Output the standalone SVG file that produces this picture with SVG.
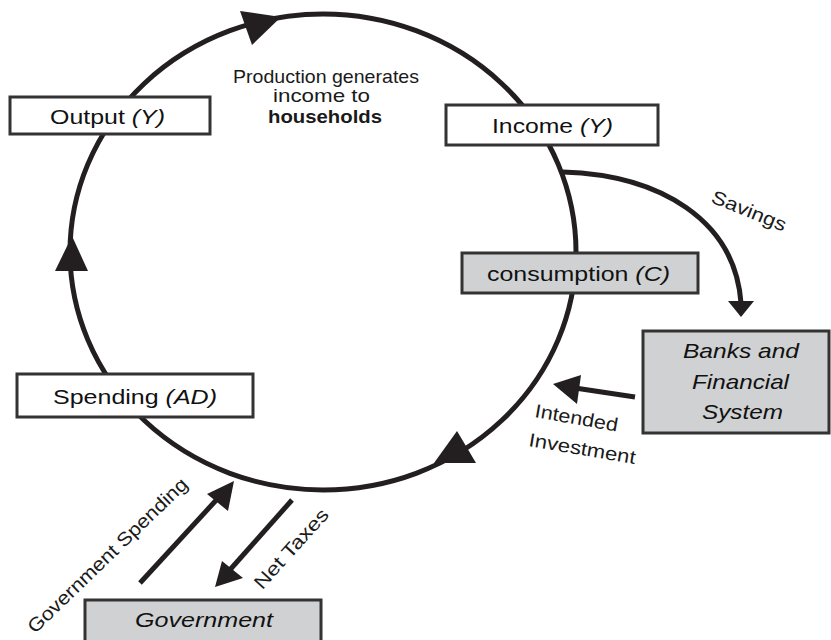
<svg xmlns="http://www.w3.org/2000/svg" width="831" height="640" viewBox="0 0 831 640">
<style>
.box{fill:#fff;stroke:#333;stroke-width:3}
.gbox{fill:#d0d1d3;stroke:#333;stroke-width:3}
.lbl{font-family:"Liberation Sans",Arial,sans-serif;font-size:21px;fill:#111}
.sm{font-family:"Liberation Sans",Arial,sans-serif;font-size:19px;fill:#1a1a1a}
.line{fill:none;stroke:#231f20;stroke-width:5}
.head{fill:#231f20}
</style>
<rect width="831" height="640" fill="#fff"/>
<g id="connectors">
<ellipse class="line" cx="323" cy="252" rx="253" ry="238"/>
<polygon class="head" points="281,17 240,11 252,45"/>
<polygon class="head" points="72,236 55,271 88,271"/>
<polygon class="head" points="434,463 457,431 476,463"/>
<path class="line" d="M563,172 C660,175 735,220 741,303"/>
<polygon class="head" points="741,317 728,301 754,301"/>
<path class="line" d="M635,397 L575,388"/>
<polygon class="head" points="553,384 581,375 577,404"/>
<path class="line" d="M140,583 L220,496"/>
<polygon class="head" points="234,481 207,494 228,511"/>
<path class="line" d="M292,500 L228,572"/>
<polygon class="head" points="215,587 222,561 243,578"/>
</g>
<g id="output">
<rect class="box" x="10" y="97" width="200" height="37"/>
<text class="lbl" x="50" y="124" textLength="115" lengthAdjust="spacingAndGlyphs">Output <tspan font-style="italic">(Y)</tspan></text>
</g>
<g id="income">
<rect class="box" x="446" y="105" width="212" height="40"/>
<text class="lbl" x="492" y="133" textLength="121" lengthAdjust="spacingAndGlyphs">Income <tspan font-style="italic">(Y)</tspan></text>
</g>
<g id="consumption">
<rect class="gbox" x="462" y="253" width="236" height="40"/>
<text class="lbl" x="487" y="281" textLength="183" lengthAdjust="spacingAndGlyphs">consumption <tspan font-style="italic">(C)</tspan></text>
</g>
<g id="banks">
<rect class="gbox" x="643" y="331" width="186" height="102"/>
<text class="lbl" font-style="italic" x="683" y="358" textLength="116" lengthAdjust="spacingAndGlyphs">Banks and</text>
<text class="lbl" font-style="italic" x="692" y="389" textLength="97" lengthAdjust="spacingAndGlyphs">Financial</text>
<text class="lbl" font-style="italic" x="702" y="419" textLength="81" lengthAdjust="spacingAndGlyphs">System</text>
</g>
<g id="spending">
<rect class="box" x="17" y="374" width="236" height="43"/>
<text class="lbl" x="53" y="404" textLength="164" lengthAdjust="spacingAndGlyphs">Spending <tspan font-style="italic">(AD)</tspan></text>
</g>
<g id="government">
<rect class="gbox" x="85" y="600" width="236" height="50"/>
<text class="lbl" font-style="italic" x="135" y="627" textLength="138" lengthAdjust="spacingAndGlyphs">Government</text>
</g>
<g id="labels">
<text class="sm" x="233" y="83" textLength="186" lengthAdjust="spacingAndGlyphs">Production generates</text>
<text class="sm" x="273" y="102" textLength="97" lengthAdjust="spacingAndGlyphs">income to</text>
<text class="sm" x="268" y="123" font-weight="bold" textLength="114" lengthAdjust="spacingAndGlyphs">households</text>
<text class="sm" x="710" y="202" transform="rotate(22 710 202)" textLength="79" lengthAdjust="spacingAndGlyphs">Savings</text>
<text class="sm" x="534" y="417" transform="rotate(10 534 417)" textLength="84" lengthAdjust="spacingAndGlyphs">Intended</text>
<text class="sm" x="528" y="446" transform="rotate(9.6 528 446)" textLength="108" lengthAdjust="spacingAndGlyphs">Investment</text>
<text class="sm" text-anchor="middle" x="112" y="560" transform="rotate(-44 112 560)" textLength="214" lengthAdjust="spacingAndGlyphs">Government Spending</text>
<text class="sm" text-anchor="middle" x="296" y="553" transform="rotate(-48 296 553)" textLength="101" lengthAdjust="spacingAndGlyphs">Net Taxes</text>
</g>
</svg>
